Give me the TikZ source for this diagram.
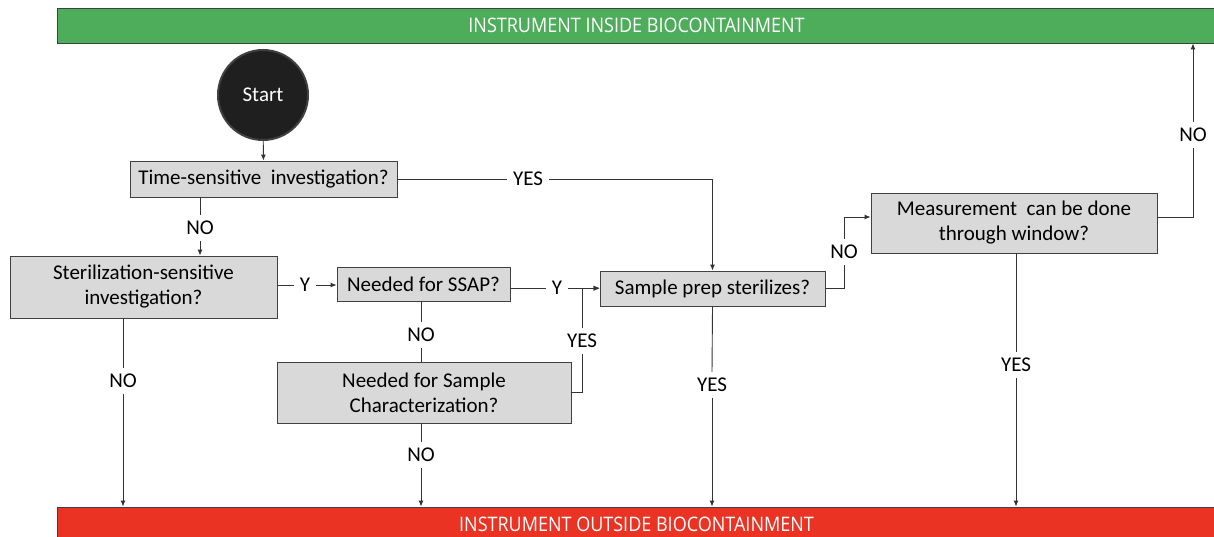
\documentclass[tikz,border=0pt]{standalone}
\usepackage{fontspec}
\setmainfont{Carlito}
\newfontfamily\barfont[FakeStretch=0.9]{Open Sans}
\usetikzlibrary{arrows.meta,calc}
\definecolor{bargreen}{HTML}{4EAD5B}
\definecolor{barred}{HTML}{EA3323}
\definecolor{boxgray}{HTML}{D9D9D9}
\definecolor{edgegray}{HTML}{404040}
\begin{document}
\begin{tikzpicture}[x=1pt,y=-1pt,
  qbox/.style={draw=edgegray,fill=boxgray,line width=0.9pt,inner sep=0pt,align=center,
    font=\fontsize{21}{25}\selectfont},
  bar/.style={draw=edgegray,line width=0.9pt,inner sep=0pt,minimum width=1159,minimum height=35,
    text=white,font=\barfont\fontsize{20}{23}\selectfont},
  lbl/.style={inner sep=6pt,font=\fontsize{21}{25}\selectfont},
  startc/.style={circle,draw=edgegray,fill=black!88,line width=2pt,minimum size=90,inner sep=0pt,
    text=white,font=\fontsize{21}{25}\selectfont},
  arr/.style={-{Latex[length=6pt,width=5pt]}},
  conn/.style={draw=black!80,line width=0.9pt}]
\clip (0,0) rectangle (1214,537);
% bars
\node[bar,fill=bargreen] (in) at (636.5,25.5) {INSTRUMENT INSIDE BIOCONTAINMENT};
\node[bar,fill=barred] (out) at (636.5,524.5) {INSTRUMENT OUTSIDE BIOCONTAINMENT};
% nodes
\node[startc] (st) at (263,95) {Start};
\node[qbox,minimum width=267,minimum height=36] (ts) at (263.5,179) {Time-sensitive\ \ investigation?};
\node[qbox,minimum width=267,minimum height=62] (ss) at (143.5,287) {Sterilization-sensitive\\investigation?};
\node[qbox,minimum width=173,minimum height=34] (ssap) at (423.5,284) {Needed for SSAP?};
\node[qbox,minimum width=225,minimum height=35] (sp) at (712.5,288.5) {Sample prep sterilizes?};
\node[qbox,minimum width=294,minimum height=61] (sc) at (424,392.5) {Needed for Sample\\Characterization?};
\node[qbox,minimum width=286,minimum height=60] (mw) at (1014,223) {Measurement\ \ can be done\\through window?};
% labels
\node[lbl] (yes1) at (528,179) {YES};
\node[lbl] (no1) at (200,228) {NO};
\node[lbl] (y1) at (305,285) {Y};
\node[lbl] (y2) at (557,288) {Y};
\node[lbl] (no2) at (123,381) {NO};
\node[lbl] (no3) at (421,335) {NO};
\node[lbl] (yes3) at (582,341) {YES};
\node[lbl] (no4) at (421,455) {NO};
\node[lbl] (yes4) at (712,385) {YES};
\node[lbl] (no5) at (844,252) {NO};
\node[lbl] (no6) at (1193,135) {NO};
\node[lbl] (yes5) at (1016,365) {YES};
% connectors
\draw[conn,arr] (st) -- (ts);
\draw[conn] (ts.east) -- (yes1.west);
\draw[conn,arr] (yes1.east) -| (sp.north);
\draw[conn] (ts.south -| no1) -- (no1.north);
\draw[conn,arr] (no1.south) -- (no1.south |- ss.north);
\draw[conn] (y1.west -| ss.east) -- (y1.west);
\draw[conn,arr] (y1.east) -- (y1.east -| ssap.west);
\draw[conn] (y2.west -| ssap.east) -- (y2.west);
\draw[conn,arr] (y2.east) -- (y2.east -| sp.west);
\draw[conn] (ss.south -| no2) -- (no2.north);
\draw[conn,arr] (no2.south) -- (no2.south |- out.north);
\draw[conn] (ssap.south -| no3) -- (no3.north);
\draw[conn] (no3.south) -- (no3.south |- sc.north);
\draw[conn] (sc.east) -| (yes3.south);
\draw[conn,arr] (yes3.north) |- (sp.west);
\draw[conn] (sc.south -| no4) -- (no4.north);
\draw[conn,arr] (no4.south) -- (no4.south |- out.north);
\draw[conn] (sp.south) -- (yes4.north);
\draw[conn,arr] (yes4.south) -- (yes4.south |- out.north);
\draw[conn] (sp.east) -| (no5.south);
\draw[conn,arr] (no5.north) |- ($(mw.west)+(0,-6)$);
\draw[conn] ($(mw.east)+(0,-6)$) -| (no6.south);
\draw[conn,arr] (no6.north) -- (no6.north |- in.south);
\draw[conn] (mw.south -| yes5) -- (yes5.north);
\draw[conn,arr] (yes5.south) -- (yes5.south |- out.north);
\end{tikzpicture}
\end{document}
